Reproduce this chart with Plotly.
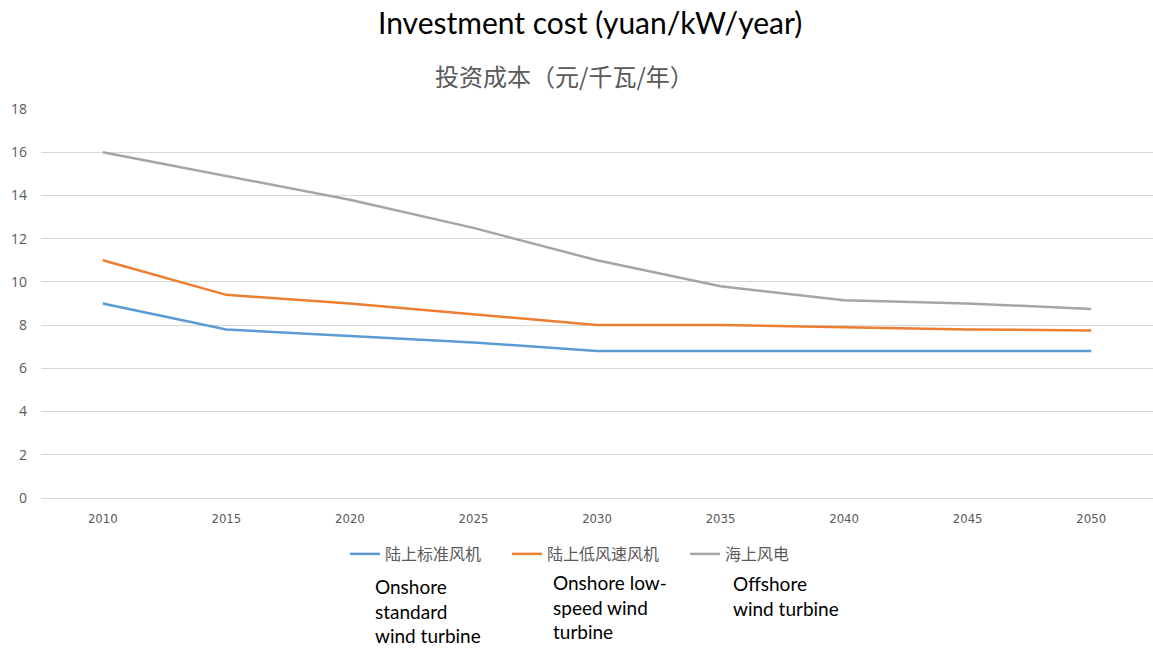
import plotly.graph_objects as go

years = ["2010", "2015", "2020", "2025", "2030", "2035", "2040", "2045", "2050"]
onshore_standard = [9.0, 7.8, 7.5, 7.2, 6.8, 6.8, 6.8, 6.8, 6.8]
onshore_lowspeed = [11.0, 9.4, 9.0, 8.5, 8.0, 8.0, 7.9, 7.8, 7.75]
offshore = [16.0, 14.9, 13.8, 12.5, 11.0, 9.8, 9.15, 9.0, 8.75]
series_names = ["陆上标准风机", "陆上低风速风机", "海上风电"]
colors = ["#5B9BD5", "#ED7D31", "#A5A5A5"]
english_labels = ["Onshore<br>standard<br>wind turbine", "Onshore low-<br>speed wind<br>turbine", "Offshore<br>wind turbine"]

W, H = 1153, 651
L, R, T, B = 41, 0, 109, 153
pw = W - L - R
ph = H - T - B

def px_x(x):
    return (x - L) / pw

def px_y(y):
    return (H - B - y) / ph

fig = go.Figure()
legends = ["legend", "legend2", "legend3"]
for vals, name, c, lg in zip([onshore_standard, onshore_lowspeed, offshore], series_names, colors, legends):
    fig.add_trace(go.Scatter(x=years, y=vals, name=name, mode="lines",
                             line=dict(color=c, width=2.5), legend=lg))

leg_x = [345, 507, 685]
leg_common = dict(orientation="h", xref="container", yref="container", y=1 - 554 / H,
                  yanchor="middle", xanchor="left", bgcolor="rgba(0,0,0,0)",
                  font=dict(family="Noto Sans CJK SC", size=16, color="#595959"))
layout_legends = {}
for lg, lx in zip(legends, leg_x):
    layout_legends[lg] = dict(x=lx / W, **leg_common)

annotations = [
    dict(text="Investment cost (yuan/kW/year)", x=px_x(590), y=px_y(22), xref="paper", yref="paper",
         showarrow=False, xanchor="center", yanchor="middle",
         font=dict(family="Lato", size=30, color="#000000")),
    dict(text="投资成本（元/千瓦/年）", x=px_x(564), y=px_y(75), xref="paper", yref="paper",
         showarrow=False, xanchor="center", yanchor="middle",
         font=dict(family="Noto Sans CJK SC", size=24, color="#595959")),
]
for txt, ax, ay in zip(english_labels, [373, 551, 731], [573, 569, 570]):
    annotations.append(dict(text=txt, x=px_x(ax), y=px_y(ay), xref="paper", yref="paper",
                            showarrow=False, xanchor="left", yanchor="top", align="left",
                            font=dict(family="Lato", size=19, color="#000000")))

fig.update_layout(
    width=W, height=H,
    margin=dict(l=L, r=R, t=T, b=B),
    paper_bgcolor="white", plot_bgcolor="white",
    showlegend=True,
    annotations=annotations,
    **layout_legends,
)
fig.update_xaxes(type="category", range=[-0.5, 8.5], showgrid=False, showline=False, zeroline=False,
                 ticks="", tickfont=dict(family="Liberation Sans Narrow, DejaVu Sans Condensed", size=13, color="#595959"),
                 ticklabelstandoff=11)
fig.update_yaxes(range=[0, 18], dtick=2, showgrid=True, gridcolor="#D9D9D9", gridwidth=1,
                 zeroline=True, zerolinecolor="#D9D9D9", zerolinewidth=1, showline=False,
                 ticks="", tickfont=dict(family="Open Sans", size=14, color="#595959"),
                 ticklabelstandoff=13)

fig.write_html("out.html")
